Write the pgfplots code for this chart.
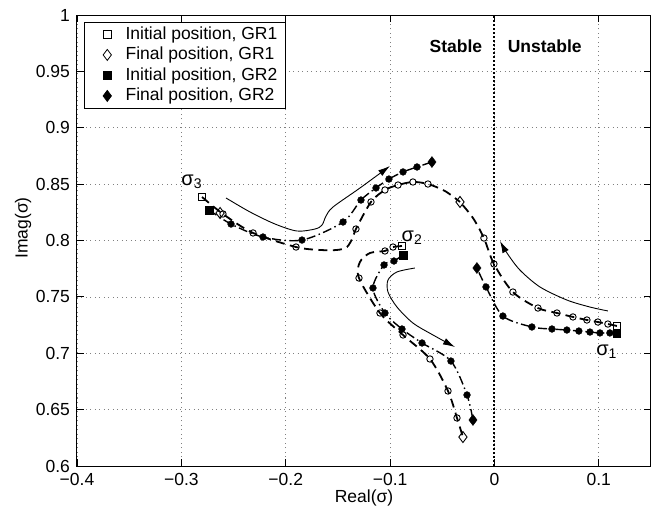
\documentclass[border=0pt]{standalone}
\usepackage{fontspec}
\setmainfont{Liberation Sans}
\usepackage{pgfplots}
\pgfplotsset{compat=1.18}
\usetikzlibrary{arrows.meta}
\pgfplotsset{
  grone/.style={black, line width=1.8pt, dash pattern=on 9pt off 5.5pt, smooth, tension=0.5, mark=none},
  grtwo/.style={black, line width=1.4pt, dash pattern=on 9pt off 3.5pt on 1.5pt off 3.5pt, smooth, tension=0.5, mark=none},
  omark/.style={only marks, mark=o, mark size=3.2pt, mark options={solid, black, line width=0.9pt}},
  fmark/.style={only marks, mark=*, mark size=3.4pt, mark options={solid, black, fill=black}},
  arr/.style={black, line width=0.9pt, smooth, tension=0.5, mark=none, -{Latex[length=12pt,width=7pt]}},
}
\begin{document}
\fontsize{17.5}{21}\selectfont
\begin{tikzpicture}
\begin{axis}[
  at={(0,0)}, anchor=south west, scale only axis,
  width=574pt, height=451pt,
  xmin=-0.4, xmax=0.15, ymin=0.6, ymax=1,
  xtick={-0.4,-0.3,-0.2,-0.1,0,0.1},
  xticklabels={−0.4,−0.3,−0.2,−0.1,0,0.1},
  ytick={0.6,0.65,0.7,0.75,0.8,0.85,0.9,0.95,1},
  yticklabels={0.6,0.65,0.7,0.75,0.8,0.85,0.9,0.95,1},
  xticklabel style={yshift=-1.5pt},
  yticklabel style={xshift=-1pt},
  tick align=inside, major tick length=7pt,
  tick style={black, line width=0.8pt},
  axis line style={black, line width=1pt},
  grid=major,
  grid style={black!50, line width=0.7pt, dash pattern=on 1pt off 3.5pt},
  xlabel={Real(σ)}, ylabel={Imag(σ)},
  xlabel style={at={(axis description cs:0.5,0)}, anchor=center, yshift=-32pt},
  ylabel style={at={(axis description cs:0,0.528)}, anchor=center, yshift=54pt},
  legend style={at={(0.012,0.985)}, anchor=north west, draw=black, line width=0.8pt,
    inner sep=2pt, nodes={inner ysep=2.6pt, inner xsep=5.7pt}, legend cell align=left},
  legend image code/.code={\path[draw=none, fill=none] (-21pt,-3pt) rectangle (12.6pt,3pt);
    \draw[mark repeat=2,mark phase=2,#1] plot coordinates {(-21pt,0pt)(0pt,0pt)(12.6pt,0pt)};},
]
\addlegendimage{only marks, mark=square, mark size=3.8pt, mark options={black, line width=0.8pt}}
\addlegendentry{Initial position, GR1}
\addlegendimage{only marks, mark=diamond, mark size=5.5pt, mark options={black, line width=0.8pt}}
\addlegendentry{Final position, GR1}
\addlegendimage{only marks, mark=square*, mark size=3.8pt, mark options={black, fill=black}}
\addlegendentry{Initial position, GR2}
\addlegendimage{only marks, mark=diamond*, mark size=5.5pt, mark options={black, fill=black}}
\addlegendentry{Final position, GR2}

% stability boundary
\addplot[black, line width=2pt, dash pattern=on 2pt off 2pt, forget plot] coordinates {(0,0.6) (0,1)};

% GR1 lines
\addplot[grone, forget plot] coordinates {(-0.2802,0.8386) (-0.2601,0.8235) (-0.2313,0.8067) (-0.1901,0.7942) (-0.1671,0.7916) (-0.1509,0.7916) (-0.1413,0.7942) (-0.1355,0.8031) (-0.1327,0.8102) (-0.1183,0.8342) (-0.1049,0.8448) (-0.0924,0.8492) (-0.0781,0.8519) (-0.0637,0.8501) (-0.0474,0.8439) (-0.0330,0.8342)};
\addplot[grone, forget plot] coordinates {(0.1173,0.7242) (0.1087,0.7259) (0.0991,0.7277) (0.0886,0.7295) (0.0752,0.7322) (0.0599,0.7357) (0.0417,0.7401) (0.0177,0.7543) (-0.0005,0.7792) (-0.0101,0.8022) (-0.0206,0.8200) (-0.0330,0.8342)};
\addplot[grone, forget plot] coordinates {(-0.0886,0.7951) (-0.0972,0.7942) (-0.1049,0.7907) (-0.1193,0.7889) (-0.1289,0.7809) (-0.1298,0.7667) (-0.1097,0.7357) (-0.0876,0.7162) (-0.0618,0.6949) (-0.0445,0.6665) (-0.0359,0.6426) (-0.0302,0.6257)};
% GR2 lines
\addplot[grtwo, forget plot] coordinates {(-0.2735,0.8271) (-0.2524,0.8146) (-0.2218,0.8031) (-0.1844,0.8004) (-0.1451,0.8164) (-0.1279,0.8359) (-0.1135,0.8466) (-0.1011,0.8545) (-0.0876,0.8608) (-0.0742,0.8652) (-0.0599,0.8696)};
\addplot[grtwo, forget plot] coordinates {(0.1173,0.7180) (0.1106,0.7180) (0.1011,0.7180) (0.0915,0.7188) (0.0809,0.7197) (0.0694,0.7206) (0.0551,0.7215) (0.0359,0.7233) (0.0081,0.7330) (-0.0081,0.7588) (-0.0168,0.7756)};
\addplot[grtwo, forget plot] coordinates {(-0.0876,0.7871) (-0.0963,0.7818) (-0.1058,0.7783) (-0.1164,0.7579) (-0.1049,0.7357) (-0.0886,0.7215) (-0.0694,0.7091) (-0.0417,0.6931) (-0.0263,0.6630) (-0.0206,0.6408)};

% GR1 marks
\addplot[omark, forget plot] coordinates {(-0.2601,0.8235) (-0.2313,0.8067) (-0.1901,0.7942) (-0.1327,0.8102) (-0.1183,0.8342) (-0.1049,0.8448) (-0.0924,0.8492) (-0.0781,0.8519) (-0.0637,0.8501)
 (0.1087,0.7259) (0.0991,0.7277) (0.0886,0.7295) (0.0752,0.7322) (0.0599,0.7357) (0.0417,0.7401) (0.0177,0.7543) (-0.0005,0.7792) (-0.0101,0.8022)
 (-0.0972,0.7942) (-0.1049,0.7907) (-0.1298,0.7667) (-0.1097,0.7357) (-0.0876,0.7162) (-0.0618,0.6949) (-0.0445,0.6665) (-0.0359,0.6426)};
% GR2 marks
\addplot[fmark, forget plot] coordinates {(-0.2524,0.8146) (-0.2218,0.8031) (-0.1844,0.8004) (-0.1451,0.8164) (-0.1279,0.8359) (-0.1135,0.8466) (-0.1011,0.8545) (-0.0876,0.8608) (-0.0742,0.8652)
 (0.1106,0.7180) (0.1011,0.7180) (0.0915,0.7188) (0.0809,0.7197) (0.0694,0.7206) (0.0551,0.7215) (0.0359,0.7233) (0.0081,0.7330) (-0.0081,0.7588)
 (-0.0963,0.7818) (-0.1058,0.7783) (-0.1164,0.7579) (-0.1049,0.7357) (-0.0886,0.7215) (-0.0694,0.7091) (-0.0417,0.6931) (-0.0263,0.6630)};

% initial / final positions
\addplot[only marks, mark=square, mark size=3.8pt, mark options={black, line width=0.9pt}, forget plot] coordinates {(-0.2802,0.8386) (-0.0886,0.7951) (0.1173,0.7242)};
\addplot[only marks, mark=square*, mark size=3.8pt, mark options={black, fill=black}, forget plot] coordinates {(-0.2735,0.8271) (-0.0876,0.7871) (0.1173,0.7180)};
\addplot[only marks, mark=diamond, mark size=5.5pt, mark options={black, line width=0.9pt}, forget plot] coordinates {(-0.2629,0.8244) (-0.0330,0.8342) (-0.0302,0.6257)};
\addplot[only marks, mark=diamond*, mark size=5.5pt, mark options={black, fill=black}, forget plot] coordinates {(-0.0599,0.8696) (-0.0168,0.7756) (-0.0206,0.6408)};

% arrows
\addplot[arr, forget plot] coordinates {(-0.2572,0.8377) (-0.2342,0.8253) (-0.2102,0.8146) (-0.1892,0.8084) (-0.1719,0.8102) (-0.1652,0.8137) (-0.1614,0.8217) (-0.1547,0.8297) (-0.1288,0.8466) (-0.1001,0.8661)};
\addplot[arr, forget plot] coordinates {(0.1087,0.7375) (0.0915,0.7410) (0.0694,0.7472) (0.0436,0.7588) (0.0244,0.7738) (0.0120,0.7889) (0.0053,0.7996)};
\addplot[arr, forget plot] coordinates {(-0.0762,0.7756) (-0.0934,0.7721) (-0.1020,0.7650) (-0.1020,0.7543) (-0.0934,0.7410) (-0.0781,0.7268) (-0.0589,0.7162) (-0.0378,0.7055)};

% texts
\node[anchor=east, font=\bfseries] at (axis cs:-0.006,0.9725) {Stable};
\node[anchor=west, font=\bfseries] at (axis cs:0.007,0.9725) {Unstable};
\node[font=\fontsize{20}{22}\selectfont] at (axis cs:0.1075,0.7011) {σ\textsubscript{1}};
\node[font=\fontsize{20}{22}\selectfont] at (axis cs:-0.0790,0.8022) {σ\textsubscript{2}};
\node[font=\fontsize{20}{22}\selectfont] at (axis cs:-0.2900,0.8519) {σ\textsubscript{3}};
\end{axis}
\path (-77pt,-46pt) rectangle (577pt,466pt);
\end{tikzpicture}
\end{document}
